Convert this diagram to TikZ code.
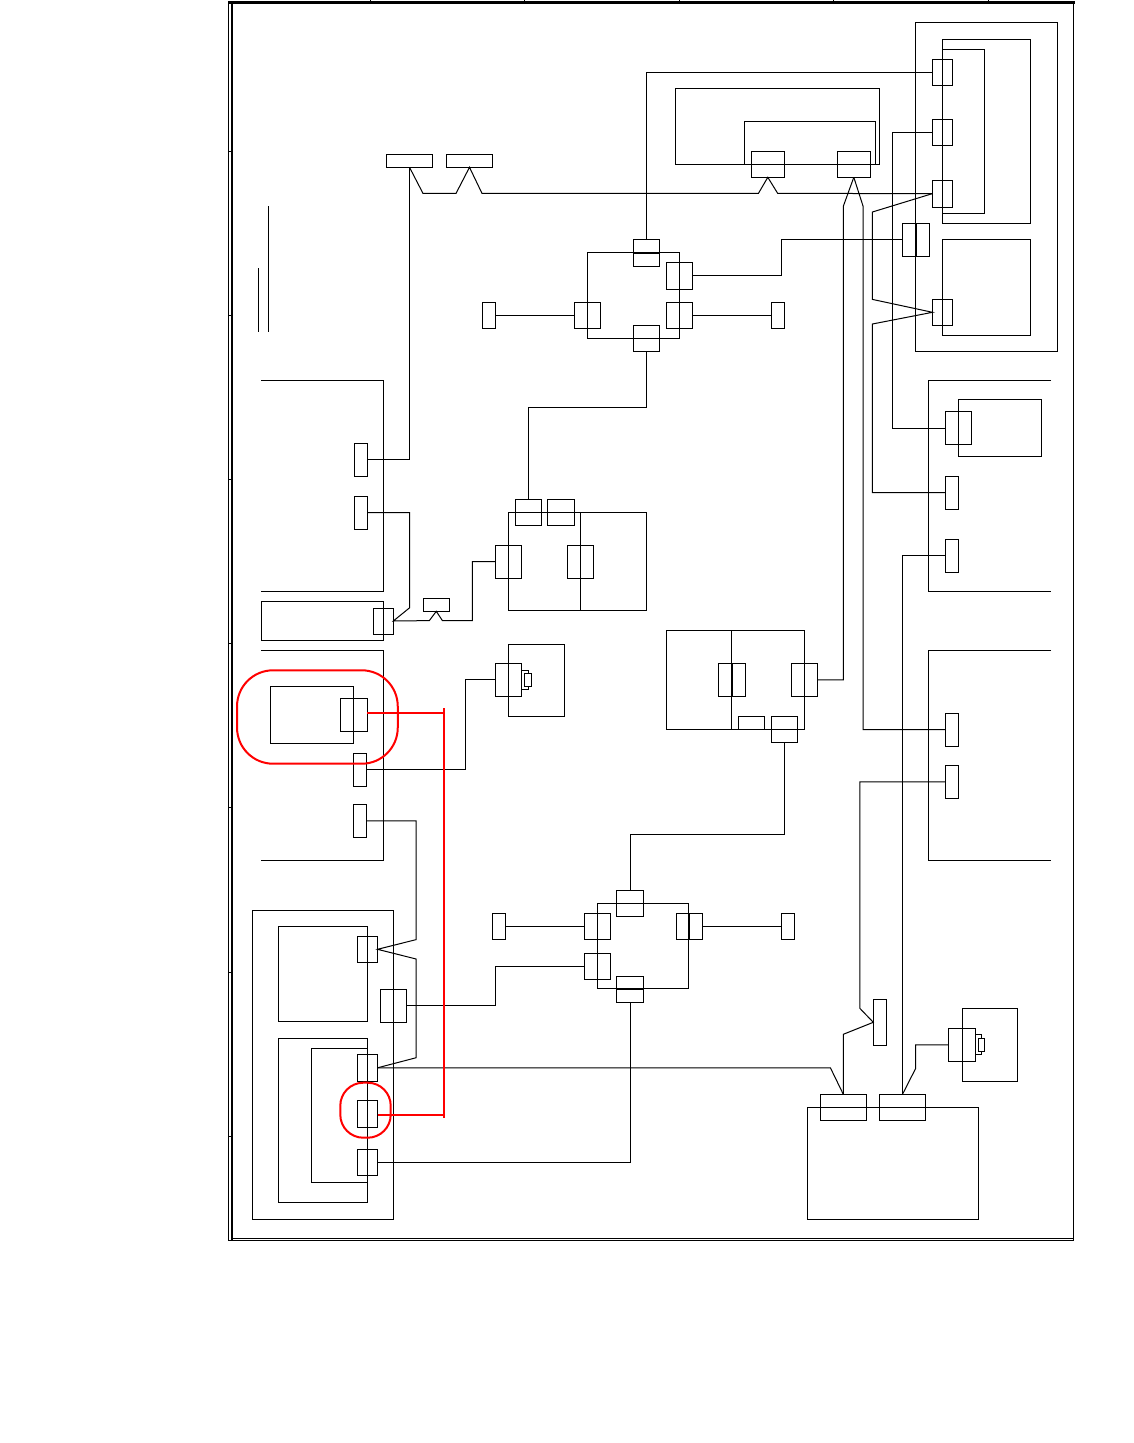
\documentclass[tikz,border=0pt]{standalone}
\usepackage{xcolor}
\definecolor{mred}{RGB}{255,0,0}
\tikzset{
  box/.style 2 args={draw,inner sep=0pt,outer sep=0pt,minimum width=#1pt,minimum height=#2pt},
  wire/.style={line width=1pt,line join=miter},
  seam/.style={line width=2pt},
  frame/.style={line width=1pt},
  mark red/.style={mred,line width=2pt}
}
\begin{document}
\begin{tikzpicture}[x=1pt,y=-1pt,line width=1pt]
  \useasboundingbox (0,0) rectangle (1134,1443);
  % Sheet frame
  \draw[frame] (228,1) -- (228,1240.5) -- (1073.6,1240.5) -- (1073.6,2);
  \draw[frame] (232,1238.4) -- (1073.6,1238.4);
  \draw[line width=2.8pt] (228,2.3) -- (1074.5,2.3);
  \draw[line width=2pt] (232,2) -- (232,1241);
  \foreach \tx in {370.7,524.5,679.3,833.7,988.5}
    \draw[frame] (\tx,0) -- (\tx,2);
  \foreach \ty in {151,315,479,643,807.7,972,1136.7}
    \draw[frame] (228,\ty) -- (232,\ty);
  \draw (258.4,268) -- (258.4,332);
  \draw (268.4,206) -- (268.4,332);
  % Upper right enclosure
  \node[box={142.4}{329}] (rOuter) at (986.5,186.8) {};
  \node[box={88}{184}] (rInA) at (986.3,131.3) {};
  \node[box={88}{96}] (rInB) at (986.3,287.3) {};
  \node[box={42}{164}] (rInC) at (963.3,131.3) {};
  \node[box={20}{26}] (rP1) at (942.5,72.3) {};
  \node[box={20}{26}] (rP2) at (942.5,132.3) {};
  \node[box={20}{27}] (rP3) at (942.5,193.6) {};
  \node[box={20}{26}] (rP4) at (942.5,312.3) {};
  \node[box={27}{33}] (rJoin) at (915.8,239.8) {};
  \draw[seam] (rJoin.north) -- (rJoin.south);
  % Upper middle rack
  \node[box={204}{76}] (dOuter) at (777.3,126.3) {};
  \node[box={131}{43}] (dInner) at (809.8,142.8) {};
  \node[box={33}{26}] (dP1) at (767.8,164.3) {};
  \node[box={33}{26}] (dP2) at (853.8,164.3) {};
  \node[box={46}{13}] (tagA) at (409.5,160.8) {};
  \node[box={46}{13}] (tagB) at (469.5,160.8) {};
  % Upper ring
  \node[box={92}{86}] (ringA) at (633.3,295.3) {};
  \node[box={26}{27}] (aTop) at (646.3,252.8) {};
  \draw[seam] (aTop.west) -- (aTop.east);
  \node[box={26}{26}] (aBot) at (646.3,338.3) {};
  \node[box={26}{27}] (aR1) at (679.3,275.8) {};
  \node[box={26}{26}] (aR2) at (679.3,315.3) {};
  \node[box={26}{26}] (aL) at (587.3,315.3) {};
  \node[box={13}{26}] (aFarL) at (488.8,315.3) {};
  \node[box={13}{26}] (aFarR) at (777.8,315.3) {};
  % Middle block
  \node[box={72}{98}] (mA) at (544.5,561.5) {};
  \node[box={66}{98}] (mB) at (613.5,561.5) {};
  \node[box={26}{26}] (mT1) at (528.5,512.3) {};
  \node[box={27}{26}] (mT2) at (561,512.3) {};
  \node[box={26}{33}] (mL) at (508.5,561.6) {};
  \node[box={26}{33}] (mR) at (580.5,561.6) {};
  \node[box={26}{13}] (mS) at (436.3,604.8) {};
  % Left column
  \draw (261.3,380.5) -| (383.3,591.5) -- (261.3,591.5);
  \draw (261.3,650.4) -| (383.3,860.4) -- (261.3,860.4);
  \node[box={13}{33}] (lP1) at (361,459.6) {};
  \node[box={13}{33}] (lP2) at (361,512.6) {};
  \node[box={122}{39}] (lRect) at (322.3,620.8) {};
  \node[box={20}{26}] (lPort) at (383.3,621) {};
  \node[box={83}{57}] (lIn) at (311.8,714.8) {};
  \node[box={27}{33}] (lP3) at (353.8,714.8) {};
  \node[box={13}{33}] (lP4) at (359.8,769.6) {};
  \node[box={13}{33}] (lP5) at (359.8,820.8) {};
  % Camera
  \node[box={56}{72}] (camA) at (536.3,680.3) {};
  \node[box={26}{33}] (camAP) at (508.3,679.8) {};
  \node[box={7}{19}] (camAC) at (524.8,679.8) {};
  \node[box={7}{13},fill=white] (camAD) at (527.8,679.8) {};
  % Middle right block
  \node[box={65}{99}] (nA) at (698.8,679.8) {};
  \node[box={73}{99}] (nB) at (767.8,679.8) {};
  \node[box={27}{33}] (nP1) at (731.8,679.8) {};
  \draw[seam] (nP1.north) -- (nP1.south);
  \node[box={26}{33}] (nP2) at (804.3,679.8) {};
  \node[box={26}{13}] (nS) at (751.3,722.8) {};
  \node[box={26}{26}] (nP3) at (784.3,729.3) {};
  % Lower left enclosure
  \node[box={141}{309}] (oOuter) at (322.8,1064.8) {};
  \node[box={89}{95}] (oIn1) at (322.8,973.8) {};
  \node[box={89}{164}] (oIn2) at (322.8,1120.3) {};
  \node[box={56}{134}] (oIn3) at (339.3,1115.3) {};
  \node[box={20}{26}] (oP1) at (367.5,949.3) {};
  \node[box={20}{27}] (oP2) at (367.5,1067.8) {};
  \node[box={20}{27}] (oP3) at (367.5,1113.8) {};
  \node[box={20}{26}] (oP4) at (367.5,1162.3) {};
  \node[box={26}{33}] (oM) at (393.5,1005.8) {};
  % Lower ring
  \node[box={91}{85}] (ringB) at (642.8,945.8) {};
  \node[box={27}{26}] (bTop) at (630.3,903.3) {};
  \node[box={27}{26}] (bBot) at (630.3,989.3) {};
  \draw[seam] (bBot.west) -- (bBot.east);
  \node[box={26}{26}] (bL1) at (597.3,926.3) {};
  \node[box={26}{26}] (bL2) at (597.3,966.3) {};
  \node[box={26}{26}] (bR) at (689.3,926.3) {};
  \draw[seam] (bR.north) -- (bR.south);
  \node[box={13}{26}] (bFarL) at (498.8,926.3) {};
  \node[box={13}{26}] (bFarR) at (787.8,926.3) {};
  % Right column
  \draw (1051,380.5) -| (928.5,591.5) -- (1051,591.5);
  \draw (1051,650.4) -| (928.5,860.4) -- (1051,860.4);
  \node[box={83}{57}] (sRect) at (1000,428) {};
  \node[box={26}{33}] (sP1) at (958.5,428) {};
  \node[box={13}{33}] (sP2) at (951.8,492.5) {};
  \node[box={13}{33}] (sP3) at (951.8,555.5) {};
  \node[box={13}{33}] (sP4) at (951.8,729.6) {};
  \node[box={13}{33}] (sP5) at (951.8,781.8) {};
  % Lower right
  \node[box={171}{112}] (tRect) at (892.8,1163.3) {};
  \node[box={46}{26}] (tP1) at (843.3,1107.3) {};
  \node[box={46}{26}] (tP2) at (902.5,1107.3) {};
  \node[box={13}{46}] (tSide) at (879.8,1022.3) {};
  \node[box={55}{73}] (camB) at (989.8,1044.8) {};
  \node[box={27}{33}] (camBP) at (961.8,1044.8) {};
  \node[box={6.4}{20}] (camBC) at (978.5,1044.3) {};
  \node[box={6.4}{13},fill=white] (camBD) at (981.5,1044.8) {};
  % Wires, upper part
  \draw[wire] (tagA.south) |- (lP1.east);
  \draw[wire] (tagA.south) -- (423,193.4) -- (456,193.4) -- (tagB.south) -- (482,193.4)
    -- (758.4,193.4) -- (dP1.south) -- (777.7,193.4) -- (rP3.west);
  \draw[wire] (aTop.north) |- (rP1.west);
  \draw[wire] (rP2.west) -- (892.4,132.3) -- (892.4,428) -- (sP1.west);
  \draw[wire] (rP3.west) -- (872.4,212) -- (872.4,299.4) -- (rP4.west)
    -- (872.4,324) -- (872.4,492.5) -- (sP2.west);
  \draw[wire] (dP2.south) -- (843.4,206) -- (843.4,679.8) -- (nP2.east);
  \draw[wire] (dP2.south) -- (863,206) -- (863,729.6) -- (sP4.west);
  \draw[wire] (aR1.east) -- (781.4,275.8) -- (781.4,239.8) -- (rJoin.west);
  \draw[wire] (aFarL.east) -- (aL.west);
  \draw[wire] (aR2.east) -- (aFarR.west);
  \draw[wire] (aBot.south) -- (646.3,407) -- (528.5,407) -- (mT1.north);
  % Wires, middle part
  \draw[wire] (mL.west) -- (472.4,561.6) -- (472.4,620.6) -- (442.4,620.6) -- (mS.south)
    -- (429.3,620.6) -- (lPort.east) -- (409.7,607.7) -- (409.7,512.6) -- (lP2.east);
  \draw[wire] (camAP.west) -- (465.4,679.8) -- (465.4,769.6) -- (lP4.east);
  \draw[wire] (lP5.east) -- (416.2,820.8) -- (416.2,939.6) -- (oP1.east)
    -- (416.2,959) -- (416.2,1057.7) -- (oP2.east);
  \draw[wire] (oP2.east) -- (830.4,1067.8) -- (tP1.north);
  \draw[wire] (nP3.south) -- (784.3,834) -- (630.3,834) -- (bTop.north);
  \draw[wire] (sP3.west) -- (902.5,555.5) -- (tP2.north);
  \draw[wire] (tP2.north) -- (915.7,1068.3) -- (915.7,1044.8) -- (camBP.west);
  \draw[wire] (sP5.west) -- (859.8,781.8) -- (859.8,1008.3) -- (tSide.west)
    -- (843.3,1034.3) -- (tP1.north);
  % Wires, lower part
  \draw[wire] (bFarL.east) -- (bL1.west);
  \draw[wire] (bR.east) -- (bFarR.west);
  \draw[wire] (oM.east) -- (495.4,1005.8) -- (495.4,966.3) -- (bL2.west);
  \draw[wire] (oP4.east) -| (bBot.south);
  % Highlighted link
  \coordinate (redN) at (443.7,712.8);
  \coordinate (redS) at (443.7,1115);
  \draw[mark red] (lP3.east |- redN) -- (redN);
  \draw[mark red] (oP3.east |- redS) -- (redS);
  \draw[mark red] (443.7,708) -- (443.7,1118);
  \node[draw=mred,line width=2pt,inner sep=0pt,outer sep=0pt,rounded corners=36pt,
    minimum width=160.7pt,minimum height=93.4pt] (redA) at (317.4,717) {};
  \node[draw=mred,line width=2pt,inner sep=0pt,outer sep=0pt,rounded corners=23pt,
    minimum width=50.4pt,minimum height=55pt] (redB) at (365.5,1110.2) {};
\end{tikzpicture}
\end{document}
